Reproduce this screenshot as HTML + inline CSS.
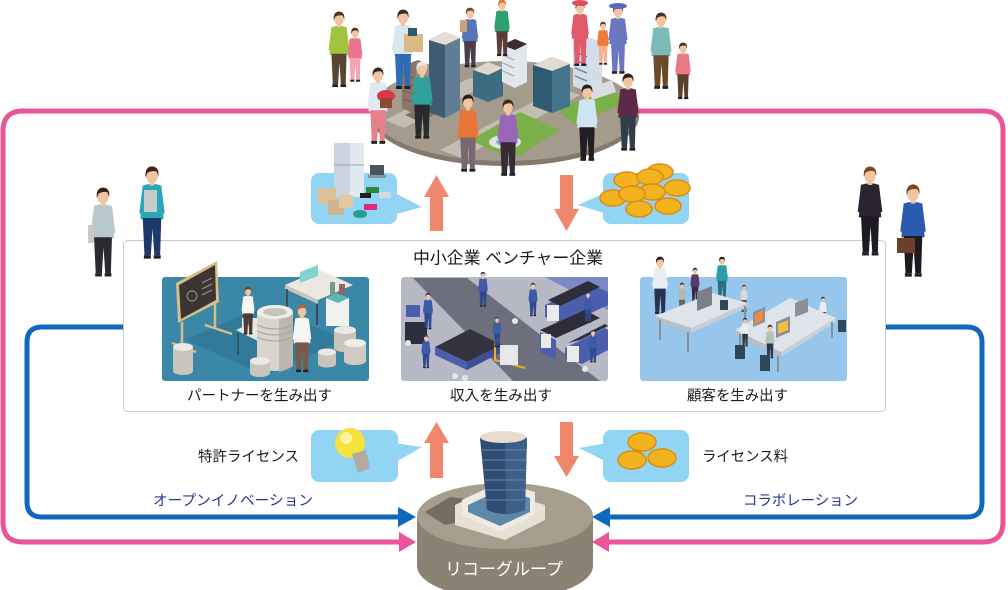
<!DOCTYPE html>
<html lang="ja">
<head>
<meta charset="utf-8">
<style>
html,body{margin:0;padding:0;background:#fff;}
body{width:1008px;height:590px;overflow:hidden;}
svg{display:block;}
text{font-family:"Liberation Sans","Noto Sans CJK JP",sans-serif;}
</style>
</head>
<body>
<svg width="1008" height="590" viewBox="0 0 1008 590" xmlns="http://www.w3.org/2000/svg">
<defs>
  <g id="p">
    <path d="M-8 16 Q0 13 8 16 L10 45 L-10 45 Z" style="fill:var(--s)"/>
    <path d="M-8 16 L-11 40 L-7.5 41 L-5 22 Z" style="fill:var(--s)"/>
    <path d="M8 16 L11 40 L7.5 41 L5 22 Z" style="fill:var(--s)"/>
    <path d="M-8 44 L8 44 L7 76 L2 76 L0.5 53 L-1 76 L-6.5 76 Z" style="fill:var(--t)"/>
    <rect x="-7" y="76" width="6" height="3" fill="#222"/>
    <rect x="1.5" y="76" width="6" height="3" fill="#222"/>
    <rect x="-2" y="11" width="4" height="5" fill="#f1c4a2"/>
    <ellipse cx="0" cy="8" rx="5" ry="6" fill="#f1c4a2"/>
    <path d="M-5.5 9 Q-6.5 0 0 -0.5 Q6.5 0 5.5 8 L4 4 Q0 2.5 -4 5 Z" style="fill:var(--h)"/>
  </g>
</defs>

<!-- pink top lines (behind disc) -->
<g fill="none" stroke="#e8559a" stroke-width="5">
  <path d="M380 111 H23 Q3 111 3 131 V522 Q3 542 23 542 H402"/>
  <path d="M630 111 H983 Q1003 111 1003 131 V522 Q1003 542 983 542 H606"/>
</g>
<polygon points="399,532 416,542 399,552" fill="#e8559a"/>
<polygon points="609,532 592,542 609,552" fill="#e8559a"/>

<!-- blue lines -->
<g fill="none" stroke="#0f68bc" stroke-width="5">
  <path d="M125 327 H42 Q27 327 27 342 V502 Q27 517 42 517 H402"/>
  <path d="M884 327 H967 Q982 327 982 342 V502 Q982 517 967 517 H606"/>
</g>
<polygon points="398,507 416,517 398,527" fill="#0f68bc"/>
<polygon points="610,507 592,517 610,527" fill="#0f68bc"/>

<!-- top city disc -->
<ellipse cx="505" cy="116" rx="134" ry="50" fill="#847a6b"/>
<ellipse cx="505" cy="111" rx="134" ry="50" fill="#a49b8c"/>
<polygon points="385,120 470,78 488,84 404,128" fill="#c4beb2"/>
<polygon points="440,150 560,88 580,95 462,158" fill="#c4beb2"/>
<polygon points="470,140 520,112 560,130 512,160" fill="#7cb04a"/>
<polygon points="555,108 612,90 628,102 574,124" fill="#7cb04a"/>
<ellipse cx="505" cy="142" rx="16" ry="7" fill="#dfe3e5"/>
<ellipse cx="505" cy="142" rx="9" ry="4" fill="#8cbccb"/>
<polygon points="405,115 440,98 455,104 420,122" fill="#7a7265"/>

<!-- buildings on disc -->
<polygon points="402,66 418,60 430,65 430,108 414,114 402,108" fill="#8a766a"/>
<polygon points="416,62 430,65 430,108 416,113" fill="#a08c80"/>
<g stroke="#6d5b52" stroke-width="1"><line x1="403" y1="75" x2="414" y2="78"/><line x1="403" y1="83" x2="414" y2="86"/><line x1="403" y1="91" x2="414" y2="94"/><line x1="403" y1="99" x2="414" y2="102"/></g>
<polygon points="429,40 445,32 460,38 460,110 444,118 429,112" fill="#3e5b72"/>
<polygon points="445,40 460,38 460,110 445,118" fill="#5f7d93"/>
<polygon points="429,40 445,32 460,38 445,45" fill="#e6ded4"/>
<polygon points="473,70 488,62 503,68 503,96 488,102 473,96" fill="#3c6b82"/>
<polygon points="473,70 488,62 503,68 488,75" fill="#e0d8cc"/>
<polygon points="502,45 515,39 527,44 527,82 515,88 502,82" fill="#e3e6ea"/>
<polygon points="502,45 515,39 527,44 515,50" fill="#3a2b32"/>
<g stroke="#9aa2ad" stroke-width="1"><line x1="503" y1="55" x2="514" y2="60"/><line x1="503" y1="63" x2="514" y2="68"/><line x1="503" y1="71" x2="514" y2="76"/></g>
<polygon points="533,65 552,57 570,64 570,106 552,113 533,106" fill="#2f5a70"/>
<polygon points="552,64 570,64 570,106 552,113" fill="#44758c"/>
<polygon points="533,65 552,57 570,64 552,71" fill="#e2dbd0"/>
<polygon points="573,44 588,37 602,42 602,85 588,92 573,86" fill="#d3dde8"/>
<g stroke="#6f8fb0" stroke-width="1.5"><line x1="575" y1="52" x2="587" y2="57"/><line x1="575" y1="60" x2="587" y2="65"/><line x1="575" y1="68" x2="587" y2="73"/><line x1="575" y1="76" x2="587" y2="81"/></g>
<polygon points="588,88 612,80 616,92 592,100" fill="#d9dde2"/>

<!-- top people -->
<use href="#p" transform="translate(339,12) scale(0.95)" style="--s:#a3c440;--t:#5a4630;--h:#4a3426"/>
<use href="#p" transform="translate(355,28) scale(0.68)" style="--s:#ea7590;--t:#f1a5b3;--h:#4a3426"/>
<use href="#p" transform="translate(403,10) scale(1.0)" style="--s:#d9e7f0;--t:#2e6db5;--h:#3a2a20"/>
<rect x="404" y="34" width="19" height="18" fill="#dcb883"/>
<rect x="408" y="28" width="9" height="8" fill="#2f5a6a"/>
<use href="#p" transform="translate(470,8) scale(0.75)" style="--s:#5577b8;--t:#4a3e4a;--h:#6a4a30"/>
<rect x="460" y="20" width="7" height="12" fill="#c8a27a"/>
<use href="#p" transform="translate(502,0) scale(0.71)" style="--s:#2fa070;--t:#5a3e38;--h:#e06a3a"/>
<use href="#p" transform="translate(580,2) scale(0.81)" style="--s:#e05a6a;--t:#e05a6a;--h:#5a3a2a"/>
<ellipse cx="580" cy="3" rx="8" ry="3" fill="#e04a5a"/>
<use href="#p" transform="translate(603,22) scale(0.54)" style="--s:#f07a3a;--t:#f4b090;--h:#5a3a2a"/>
<use href="#p" transform="translate(618,5) scale(0.87)" style="--s:#6b78c0;--t:#6b78c0;--h:#5a3a2a"/>
<ellipse cx="618" cy="6" rx="9" ry="3" fill="#5a68b8"/>
<use href="#p" transform="translate(661,13) scale(0.96)" style="--s:#7abcb8;--t:#6a4a28;--h:#4a3020"/>
<use href="#p" transform="translate(683,43) scale(0.71)" style="--s:#e87a8a;--t:#5a4028;--h:#4a3020"/>
<use href="#p" transform="translate(378,68) scale(0.96)" style="--s:#dfe9f0;--t:#e8808a;--h:#3a2a20"/>
<ellipse cx="386" cy="96" rx="9" ry="6" fill="#e0344a"/>
<rect x="380" y="98" width="12" height="10" fill="#8a4a30"/>
<use href="#p" transform="translate(422,62) scale(0.97)" style="--s:#2fa19a;--t:#2a2a2e;--h:#e6e6e6"/>
<use href="#p" transform="translate(468,95) scale(0.97)" style="--s:#e8763a;--t:#7a6670;--h:#2a2020"/>
<use href="#p" transform="translate(508,100) scale(0.96)" style="--s:#9a67b8;--t:#3a2a38;--h:#3a2a20"/>
<use href="#p" transform="translate(587,85) scale(0.96)" style="--s:#cfe6f2;--t:#1e1e24;--h:#2a2020"/>
<use href="#p" transform="translate(628,74) scale(0.97)" style="--s:#5a2a48;--t:#2e3e4e;--h:#2a2020"/>

<!-- top bubbles -->
<rect x="311" y="173" width="86" height="51" rx="8" fill="#92d4f4"/>
<polygon points="393,192 422,207 393,215" fill="#92d4f4"/>
<rect x="334" y="143" width="30" height="54" rx="2" fill="#c9d4df"/>
<rect x="350" y="143" width="14" height="54" fill="#e1e8ef"/>
<line x1="334" y1="165" x2="364" y2="165" stroke="#9aa6b2" stroke-width="1"/>
<rect x="318" y="188" width="18" height="16" fill="#dcc09a"/>
<rect x="328" y="200" width="16" height="15" fill="#d2b48c"/>
<rect x="339" y="195" width="14" height="13" fill="#e2c8a2"/>
<rect x="370" y="165" width="14" height="10" fill="#4a5560"/>
<rect x="368" y="175" width="18" height="3" fill="#8a949e"/>
<rect x="366" y="187" width="13" height="6" fill="#2b8a3a"/>
<rect x="379" y="192" width="12" height="6" fill="#d0d8e0"/>
<rect x="360" y="193" width="11" height="5" fill="#1e1e1e"/>
<rect x="364" y="204" width="13" height="6" fill="#e02a7a"/>
<ellipse cx="360" cy="214" rx="7" ry="4" fill="#2a9a8a"/>

<rect x="603" y="173" width="86" height="51" rx="8" fill="#92d4f4"/>
<polygon points="607,192 578,205 607,214" fill="#92d4f4"/>
<g fill="#f2b31e" stroke="#dc8c10" stroke-width="1.5">
  <ellipse cx="660" cy="172" rx="13" ry="8"/>
  <ellipse cx="627" cy="180" rx="13" ry="8"/>
  <ellipse cx="650" cy="177" rx="13" ry="8"/>
  <ellipse cx="677" cy="188" rx="13" ry="8"/>
  <ellipse cx="652" cy="192" rx="13" ry="8"/>
  <ellipse cx="613" cy="198" rx="13" ry="8"/>
  <ellipse cx="632" cy="194" rx="13" ry="8"/>
  <ellipse cx="668" cy="206" rx="13" ry="8"/>
  <ellipse cx="639" cy="209" rx="13" ry="8"/>
</g>

<!-- orange arrows top -->
<g fill="#f0876c">
  <rect x="430" y="196" width="13" height="35"/>
  <polygon points="424,197 436.5,175 449,197"/>
  <rect x="560" y="175" width="13" height="35"/>
  <polygon points="554,209 566.5,231 579,209"/>
</g>

<!-- main box -->
<rect x="123.5" y="240.5" width="762" height="171" rx="4" fill="#fff" stroke="#c9c9c9" stroke-width="1"/>
<text x="508" y="263.5" font-size="16.5" text-anchor="middle" fill="#1a1a1a" textLength="190" lengthAdjust="spacingAndGlyphs">中小企業 ベンチャー企業</text>

<!-- panel 1 -->
<rect x="162" y="277" width="207" height="104" rx="3" fill="#3b87a7"/>
<polygon points="185,340 265,305 345,340 265,375" fill="#327a99"/>
<polygon points="176,283 217,261 219,302 178,323" fill="#d6bd8a"/>
<polygon points="179,285 215,265 216,300 181,319" fill="#3b3631"/>
<g stroke="#9a958c" stroke-width="1"><circle cx="192" cy="296" r="5" fill="none"/><line x1="202" y1="283" x2="212" y2="278"/><line x1="202" y1="289" x2="212" y2="284"/><line x1="202" y1="295" x2="212" y2="290"/></g>
<g stroke="#d6bd8a" stroke-width="2.5"><line x1="182" y1="322" x2="182" y2="346"/><line x1="215" y1="302" x2="215" y2="328"/><line x1="172" y1="343" x2="196" y2="352"/><line x1="205" y1="325" x2="232" y2="334"/></g>
<polygon points="285,285 320,270 353,285 318,300" fill="#ebe7e1"/>
<polygon points="285,285 318,300 318,304 285,289" fill="#c9c4bc"/>
<g stroke="#3a3a3a" stroke-width="1.5"><line x1="287" y1="289" x2="287" y2="312"/><line x1="317" y1="304" x2="317" y2="325"/></g>
<polygon points="300,272 318,265 318,276 300,283" fill="#82d2d2"/>
<rect x="326" y="298" width="23" height="28" fill="#f2f2f0"/>
<polygon points="326,298 337,293 349,298 338,303" fill="#5ab8b8"/>
<rect x="330" y="282" width="5" height="13" fill="#7a9a8a"/>
<rect x="339" y="284" width="6" height="11" fill="#8a6a6a"/>
<polygon points="236,330 258,320 282,332 260,342" fill="#ebe7e1"/>
<rect x="242" y="318" width="16" height="11" fill="#e8e6e0"/>
<rect x="244" y="320" width="8" height="5" fill="#4ab0a0"/>
<g stroke="#3a3a3a" stroke-width="1.2"><line x1="238" y1="333" x2="238" y2="355"/><line x1="260" y1="344" x2="260" y2="362"/></g>
<path d="M257 312 L257 366 Q275 376 293 366 L293 312 Z" fill="#d9d5cd"/>
<path d="M279 318 L293 312 L293 366 Q287 370 279 372 Z" fill="#bcb7ad"/>
<g stroke="#a9a49a" stroke-width="1"><path d="M257 325 Q275 333 293 325" fill="none"/><path d="M257 331 Q275 339 293 331" fill="none"/><path d="M257 337 Q275 345 293 337" fill="none"/></g>
<ellipse cx="275" cy="312" rx="18" ry="7" fill="#efede8"/>
<ellipse cx="275" cy="312" rx="12" ry="4" fill="#c9c4bb"/>
<g>
  <rect x="173" y="347" width="20" height="24" fill="#c9c5bd"/><ellipse cx="183" cy="371" rx="10" ry="4" fill="#c9c5bd"/><ellipse cx="183" cy="347" rx="10" ry="4" fill="#ebe9e4"/>
  <rect x="334" y="330" width="22" height="18" fill="#c9c5bd"/><ellipse cx="345" cy="348" rx="11" ry="4" fill="#c9c5bd"/><ellipse cx="345" cy="330" rx="11" ry="4" fill="#ebe9e4"/>
  <rect x="344" y="343" width="22" height="18" fill="#cfcbc3"/><ellipse cx="355" cy="361" rx="11" ry="4" fill="#cfcbc3"/><ellipse cx="355" cy="343" rx="11" ry="4" fill="#efede8"/>
  <rect x="250" y="361" width="20" height="12" fill="#c9c5bd"/><ellipse cx="260" cy="373" rx="10" ry="4" fill="#c9c5bd"/><ellipse cx="260" cy="361" rx="10" ry="4" fill="#ebe9e4"/>
  <rect x="318" y="352" width="18" height="12" fill="#c9c5bd"/><ellipse cx="327" cy="364" rx="9" ry="3.5" fill="#c9c5bd"/><ellipse cx="327" cy="352" rx="9" ry="3.5" fill="#ebe9e4"/>
</g>
<use href="#p" transform="translate(248,287) scale(0.6)" style="--s:#f6f6f6;--t:#4a3a32;--h:#6a4020"/>
<use href="#p" transform="translate(302,305) scale(0.85)" style="--s:#f6f6f6;--t:#7a5a48;--h:#b8602e"/>

<!-- panel 2 -->
<rect x="401" y="277" width="207" height="104" rx="3" fill="#b7b9c4"/>
<polygon points="545,277 608,277 608,310" fill="#7c87c6"/>
<polygon points="413,278 467,278 600,381 513,381" fill="#6d6f7d"/>
<polygon points="545,305 590,284 608,292 608,305 566,325 545,317" fill="#4b5fae"/>
<polygon points="548,300 588,281 600,287 560,306" fill="#2e2e3a"/>
<rect x="547" y="305" width="12" height="16" fill="#eceae4"/>
<polygon points="565,348 605,328 608,330 608,350 582,364 565,358" fill="#4b5fae"/>
<polygon points="568,343 605,324 608,326 580,340" fill="#2e2e3a"/>
<rect x="567" y="346" width="12" height="16" fill="#eceae4"/>
<polygon points="540,330 585,310 600,318 556,338" fill="#2e2e3a"/>
<polygon points="540,332 556,340 556,360 540,352" fill="#4b5fae"/>
<rect x="541" y="334" width="10" height="14" fill="#eceae4"/>
<rect x="405" y="322" width="22" height="22" fill="#2d2f3e"/>
<rect x="406" y="305" width="14" height="12" fill="#4b5fae"/>
<polygon points="435,347 470,329 502,345 467,362" fill="#33333d"/>
<polygon points="435,347 467,362 467,370 435,355" fill="#4b5fae"/>
<polygon points="467,362 502,345 502,352 467,370" fill="#3e4f96"/>
<g fill="none" stroke="#e3b22a" stroke-width="2"><path d="M495 332 V360 L525 368"/></g>
<g fill="#e8e8ec"><rect x="500" y="345" width="18" height="20"/></g>
<g fill="#e6e6ea"><circle cx="455" cy="376" r="3"/><circle cx="465" cy="378" r="3"/><circle cx="408" cy="343" r="3"/><circle cx="585" cy="369" r="3"/><circle cx="515" cy="321" r="3"/></g>
<use href="#p" transform="translate(428,293) scale(0.46)" style="--s:#3f5aa8;--t:#2f4a8e;--h:#2a3a70"/>
<use href="#p" transform="translate(483,272) scale(0.44)" style="--s:#3f5aa8;--t:#2f4a8e;--h:#2a3a70"/>
<use href="#p" transform="translate(426,335) scale(0.42)" style="--s:#3f5aa8;--t:#2f4a8e;--h:#2a3a70"/>
<use href="#p" transform="translate(497,317) scale(0.38)" style="--s:#3f5aa8;--t:#2f4a8e;--h:#2a3a70"/>
<use href="#p" transform="translate(533,283) scale(0.42)" style="--s:#3f5aa8;--t:#2f4a8e;--h:#2a3a70"/>
<use href="#p" transform="translate(588,292) scale(0.39)" style="--s:#3f5aa8;--t:#2f4a8e;--h:#2a3a70"/>
<use href="#p" transform="translate(593,330) scale(0.41)" style="--s:#3f5aa8;--t:#2f4a8e;--h:#2a3a70"/>

<!-- panel 3 -->
<rect x="640" y="277" width="207" height="104" rx="3" fill="#96c6ec"/>
<use href="#p" transform="translate(660,257) scale(0.72)" style="--s:#e8eef2;--t:#243450;--h:#2a2020"/>
<use href="#p" transform="translate(695,268) scale(0.42)" style="--s:#5a3a6a;--t:#3a2a4a;--h:#2a2020"/>
<use href="#p" transform="translate(722,257) scale(0.54)" style="--s:#2aa0a8;--t:#2a7080;--h:#1a1a1a"/>
<use href="#p" transform="translate(682,283) scale(0.38)" style="--s:#b0b8bc;--t:#5a6a6a;--h:#3a2a20"/>
<use href="#p" transform="translate(744,285) scale(0.34)" style="--s:#d8d8d8;--t:#5a5a5a;--h:#3a2a20"/>
<use href="#p" transform="translate(823,297) scale(0.34)" style="--s:#ececf0;--t:#3a3a4a;--h:#1a1a1a"/>
<polygon points="655,316 712,293 748,303 691,328" fill="#dfe3ea"/>
<polygon points="655,316 691,328 691,333 655,321" fill="#b8bec8"/>
<polygon points="691,328 748,303 748,307 691,333" fill="#c8ced8"/>
<g stroke="#8a9098" stroke-width="2"><line x1="660" y1="320" x2="660" y2="340"/><line x1="688" y1="332" x2="688" y2="352"/><line x1="745" y1="306" x2="745" y2="320"/></g>
<polygon points="697,292 712,286 712,305 697,311" fill="#7a8088"/>
<polygon points="735,330 790,298 836,318 781,352" fill="#dfe3ea"/>
<polygon points="735,330 781,352 781,357 735,335" fill="#b8bec8"/>
<polygon points="781,352 836,318 836,322 781,357" fill="#c8ced8"/>
<g stroke="#8a9098" stroke-width="2"><line x1="740" y1="334" x2="740" y2="352"/><line x1="778" y1="356" x2="778" y2="372"/><line x1="832" y1="322" x2="832" y2="338"/></g>
<polygon points="753,312 765,307 765,322 753,327" fill="#8a9098"/>
<polygon points="755,314 763,310 763,320 755,324" fill="#f08a40"/>
<polygon points="776,322 790,316 790,332 776,338" fill="#8a9098"/>
<polygon points="778,324 788,320 788,330 778,334" fill="#f0c040"/>
<polygon points="795,303 808,298 808,312 795,317" fill="#8a9098"/>
<use href="#p" transform="translate(745,318) scale(0.36)" style="--s:#e8f0f4;--t:#2a3a4a;--h:#2a2020"/>
<use href="#p" transform="translate(770,325) scale(0.42)" style="--s:#b0c4b8;--t:#2a3a4a;--h:#3a2a20"/>
<g fill="#2f4756"><rect x="735" y="345" width="10" height="14"/><rect x="760" y="355" width="10" height="16"/><rect x="838" y="320" width="8" height="12"/><rect x="720" y="300" width="8" height="10"/></g>

<!-- panel labels -->
<g font-size="14.5" fill="#1a1a1a" text-anchor="middle">
  <text x="259.5" y="400.5" textLength="145" lengthAdjust="spacingAndGlyphs">パートナーを生み出す</text>
  <text x="501" y="400.5" textLength="102" lengthAdjust="spacingAndGlyphs">収入を生み出す</text>
  <text x="737.5" y="400.5" textLength="101" lengthAdjust="spacingAndGlyphs">顧客を生み出す</text>
</g>

<!-- side people -->
<use href="#p" transform="translate(103,188) scale(1.12)" style="--s:#b8c8cc;--t:#2a2a30;--h:#3a2418"/>
<rect x="88" y="225" width="6" height="18" fill="#c8c8c8"/>
<use href="#p" transform="translate(152,167) scale(1.16)" style="--s:#2aa8b8;--t:#1e3a6a;--h:#3a2418"/>
<rect x="144" y="190" width="13" height="22" fill="#c8cacc"/>
<use href="#p" transform="translate(870,167) scale(1.12)" style="--s:#2a2430;--t:#1e1a22;--h:#7a4a28"/>
<use href="#p" transform="translate(913,185) scale(1.16)" style="--s:#2a5ab0;--t:#1e1a22;--h:#7a4a28"/>
<rect x="897" y="238" width="18" height="15" fill="#6a4028"/>

<!-- bottom bubbles -->
<rect x="311" y="430" width="87" height="52" rx="8" fill="#92d4f4"/>
<polygon points="394,443 422,447 394,463" fill="#92d4f4"/>
<circle cx="350" cy="443" r="15" fill="#f5e23a"/>
<circle cx="346" cy="438" r="6" fill="#fbf3a0"/>
<polygon points="352,454 366,450 370,468 358,473" fill="#b0aca2"/>
<rect x="603" y="430" width="86" height="52" rx="8" fill="#92d4f4"/>
<polygon points="607,443 579,448 607,462" fill="#92d4f4"/>
<g fill="#f2b31e" stroke="#dc8c10" stroke-width="1.5">
  <ellipse cx="642" cy="442" rx="14" ry="9"/>
  <ellipse cx="632" cy="460" rx="14" ry="9"/>
  <ellipse cx="662" cy="458" rx="14" ry="9"/>
</g>

<!-- bottom arrows -->
<g fill="#f0876c">
  <rect x="430" y="442" width="13" height="36"/>
  <polygon points="424,443 436.5,422 449,443"/>
  <rect x="560" y="422" width="13" height="35"/>
  <polygon points="554,456 566.5,477 579,456"/>
</g>

<!-- labels -->
<text x="299" y="461.5" font-size="14.5" fill="#1a1a1a" text-anchor="end" textLength="101" lengthAdjust="spacingAndGlyphs">特許ライセンス</text>
<text x="702" y="461.5" font-size="14.5" fill="#1a1a1a" textLength="86" lengthAdjust="spacingAndGlyphs">ライセンス料</text>
<text x="153" y="505.5" font-size="14.5" fill="#283593" textLength="160" lengthAdjust="spacingAndGlyphs">オープンイノベーション</text>
<text x="743" y="505.5" font-size="14.5" fill="#283593" textLength="115" lengthAdjust="spacingAndGlyphs">コラボレーション</text>

<!-- Ricoh platform -->
<path d="M417 516 V566 A88 33 0 0 0 593 566 V516 Z" fill="#8c8273"/>
<ellipse cx="505" cy="516" rx="88" ry="33" fill="#a69d8c"/>
<polygon points="425,512 450,497 475,500 470,520 445,525" fill="#756c5f"/>
<polygon points="455,505 490,488 545,505 545,520 505,540 455,525" fill="#e6e0d5"/>
<polygon points="462,500 500,482 535,492 535,515 500,532 462,515" fill="#f0ebe2"/>
<polygon points="468,505 500,490 530,498 530,512 500,526 468,512" fill="#5e88a8"/>
<path d="M480 438 Q503 428 527 438 L525 510 Q505 518 487 510 Z" fill="#2f4d72"/>
<path d="M505 433 Q518 434 527 438 L525 510 Q515 514 506 514 Z" fill="#3e5f88"/>
<g stroke="#5a7ca4" stroke-width="1.2">
  <line x1="482" y1="450" x2="526" y2="450"/><line x1="482" y1="460" x2="526" y2="460"/>
  <line x1="483" y1="470" x2="526" y2="470"/><line x1="484" y1="480" x2="526" y2="480"/>
  <line x1="485" y1="490" x2="525" y2="490"/><line x1="486" y1="500" x2="525" y2="500"/>
</g>
<ellipse cx="503" cy="437" rx="23" ry="6" fill="#e8dccf"/>
<text x="504" y="575" font-size="17" fill="#ffffff" text-anchor="middle" textLength="118" lengthAdjust="spacingAndGlyphs">リコーグループ</text>
</svg>
</body>
</html>
